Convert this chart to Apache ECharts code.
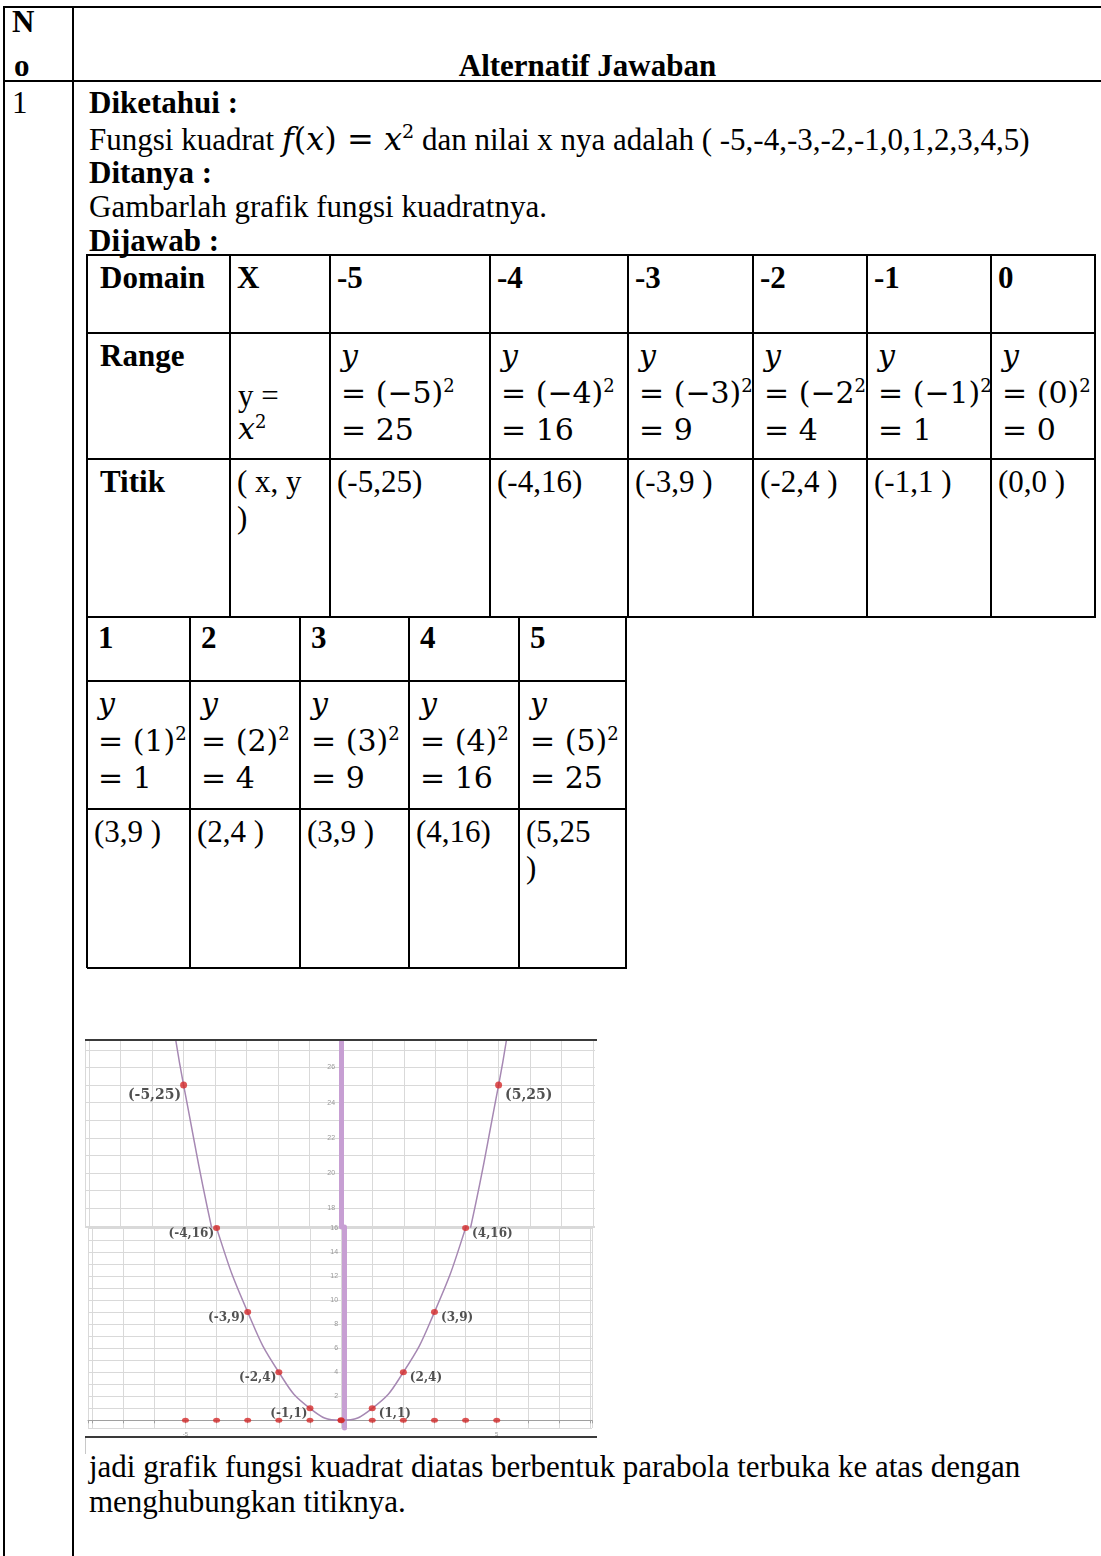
<!DOCTYPE html>
<html>
<head>
<meta charset="utf-8">
<title>Alternatif Jawaban</title>
<script src="https://cdn.jsdelivr.net/npm/echarts@6/dist/echarts.min.js"></script>
<style>
  html, body { margin: 0; padding: 0; background: #fff; }
  #page { position: relative; width: 1101px; height: 1556px; overflow: hidden;
          font-family: "Liberation Serif", "Times New Roman", serif; font-size: 31px; color: #000; }
  .t { position: absolute; white-space: nowrap; line-height: 36px; height: 36px; }
  .b { font-weight: bold; }
  .m { font-family: "DejaVu Serif", serif; font-size: 30px; }
  .m i, i.m { font-style: italic; }
  .fm { font-size: 32px; }
  .sup { font-size: 0.6em; position: relative; top: -0.62em; }
  .ln { position: absolute; background: #000; }
  .cell { position: absolute; overflow: hidden; }
  #graph { position: absolute; left: 85px; top: 1040px; width: 510px; height: 397px; background: #fff; }
  .edge { position: absolute; background: #3a3a3a; }
</style>
</head>
<body>
<div id="page">
  <div id="graph"></div>
</div>
<script>
// ---- values of the quadratic f(x) = x^2 ----
const xValues = [-5, -4, -3, -2, -1, 0, 1, 2, 3, 4, 5];
const yValues = [25, 16, 9, 4, 1, 0, 1, 4, 9, 16, 25];
const pointLabels = ['(-5,25)', '(-4,16)', '(-3,9)', '(-2,4)', '(-1,1)', '', '(1,1)', '(2,4)', '(3,9)', '(4,16)', '(5,25)'];
// where the drawn curve leaves the upper edge of the plot
const curveExit = [[-5.25, 27.56], [5.25, 27.56]];
// tick labels printed on the axes
const upperTicks = [18, 20, 22, 24, 26];
const lowerTicks = [2, 4, 6, 8, 10, 12, 14, 16];
const xTickLabels = [-5, 5];

// ---- table text ----
const domainRow = ['Domain', 'X', '-5', '-4', '-3', '-2', '-1', '0'];
const rangeSquares1 = ['(−5)', '(−4)', '(−3)', '(−2', '(−1)', '(0)'];
const rangeResults1 = ['25', '16', '9', '4', '1', '0'];
const titikRow1 = ['(-5,25)', '(-4,16)', '(-3,9 )', '(-2,4 )', '(-1,1 )', '(0,0 )'];
const domainRow2 = ['1', '2', '3', '4', '5'];
const rangeSquares2 = ['(1)', '(2)', '(3)', '(4)', '(5)'];
const rangeResults2 = ['1', '4', '9', '16', '25'];
const titikRow2 = [['(3,9 )'], ['(2,4 )'], ['(3,9 )'], ['(4,16)'], ['(5,25', ')']];

const page = document.getElementById('page');

function line(x, y, w, h) {
  const d = document.createElement('div');
  d.className = 'ln';
  d.style.cssText = `left:${x}px;top:${y}px;width:${w}px;height:${h}px`;
  page.appendChild(d);
}
function text(parent, x, cy, html, cls) {
  const d = document.createElement('div');
  d.className = 't ' + (cls || '');
  d.style.left = x + 'px';
  d.style.top = (cy - 18) + 'px';
  d.innerHTML = html;
  parent.appendChild(d);
  return d;
}
function cell(cols, rows, c, r) {
  const d = document.createElement('div');
  d.className = 'cell';
  d.style.left = (cols[c] + 1) + 'px';
  d.style.top = (rows[r] + 1) + 'px';
  d.style.width = (cols[c + 1] - cols[c] - 1) + 'px';
  d.style.height = (rows[r + 1] - rows[r] - 1) + 'px';
  page.appendChild(d);
  return d;
}
function grid(cols, rows) {
  rows.forEach(y => line(cols[0], y - 1, cols[cols.length - 1] - cols[0] + 1, 2));
  cols.forEach(x => line(x - 1, rows[0] - 1, 2, rows[rows.length - 1] - rows[0] + 1));
}
const sq = s => `= ${s}<span class="sup">2</span>`;

// ---- outer frame ----
line(3, 6, 1098, 2);
line(3, 80, 1098, 2);
line(3, 6, 2, 1550);
line(72, 6, 2, 1550);
text(page, 12, 22, 'N', 'b');
text(page, 14, 66, 'o', 'b');
const head = text(page, 74, 66, 'Alternatif Jawaban', 'b');
head.style.width = '1027px';
head.style.textAlign = 'center';

text(page, 12, 103, '1');
text(page, 89, 103, 'Diketahui :', 'b');
text(page, 89, 139, 'Fungsi kuadrat <span class="m fm"><i>f</i>(<i>x</i>) = <i>x</i><span class="sup">2</span></span> dan nilai x nya adalah ( -5,-4,-3,-2,-1,0,1,2,3,4,5)');
text(page, 89, 173, 'Ditanya :', 'b');
text(page, 89, 207, 'Gambarlah grafik fungsi kuadratnya.');
text(page, 89, 241, 'Dijawab :', 'b');

// ---- first table ----
const cols1 = [87, 230, 330, 490, 628, 753, 867, 991, 1095];
const rows1 = [255, 333, 459, 617];
grid(cols1, rows1);
domainRow.forEach((s, c) => {
  const el = cell(cols1, rows1, c, 0);
  text(el, c === 0 ? 12 : 6, 22, s, 'b');
});
{
  const el0 = cell(cols1, rows1, 0, 1);
  text(el0, 12, 22, 'Range', 'b');
  const elx = cell(cols1, rows1, 1, 1);
  text(elx, 7, 62, 'y =');
  text(elx, 7, 95, '<i>x</i><span class="sup">2</span>', 'm');
  rangeSquares1.forEach((s, i) => {
    const el = cell(cols1, rows1, i + 2, 1);
    text(el, 10, 22, '<i>y</i>', 'm');
    text(el, 10, 59, sq(s), 'm');
    text(el, 10, 96, '= ' + rangeResults1[i], 'm');
  });
  const el2 = cell(cols1, rows1, 0, 2);
  text(el2, 12, 22, 'Titik', 'b');
  const el3 = cell(cols1, rows1, 1, 2);
  text(el3, 6, 22, '( x, y');
  text(el3, 6, 58, ')');
  titikRow1.forEach((s, i) => {
    const el = cell(cols1, rows1, i + 2, 2);
    text(el, 6, 22, s);
  });
}

// ---- second table ----
const cols2 = [87, 190, 300, 409, 519, 626];
const rows2 = [617, 681, 809, 968];
grid(cols2, rows2);
domainRow2.forEach((s, c) => {
  const el = cell(cols2, rows2, c, 0);
  text(el, 10, 20, s, 'b');
  const er = cell(cols2, rows2, c, 1);
  text(er, 10, 22, '<i>y</i>', 'm');
  text(er, 10, 59, sq(rangeSquares2[c]), 'm');
  text(er, 10, 96, '= ' + rangeResults2[c], 'm');
  const et = cell(cols2, rows2, c, 2);
  titikRow2[c].forEach((s, k) => text(et, 6, 22 + k * 36, s));
});

// ---- closing sentence ----
text(page, 89, 1467, 'jadi grafik fungsi kuadrat diatas berbentuk parabola terbuka ke atas dengan');
text(page, 89, 1502, 'menghubungkan titiknya.');

// frame lines of the graph picture
function edge(x, y, w, h, color) {
  const d = document.createElement('div');
  d.className = 'edge';
  d.style.cssText = `left:${x}px;top:${y}px;width:${w}px;height:${h}px;` + (color ? `background:${color}` : '');
  page.appendChild(d);
}
edge(85, 1039, 512, 2);
edge(85, 1436, 512, 2);
edge(85, 1438, 1, 16, '#c8c8c8');

// ---- graph of y = x^2 ----
const graphEl = document.getElementById('graph');
const chart = echarts.init(graphEl, null, { renderer: 'canvas' });
const gridLine = { show: true, lineStyle: { color: '#d9d9d9', width: 1 } };
const pts = xValues.map((x, i) => [x, yValues[i]]);
const curve = [curveExit[0], ...pts, curveExit[1]];
const isTick = (v, list) => Math.abs(v - Math.round(v)) < 1e-6 && list.includes(Math.round(v));

const xMin = -8.13, xMax = 8.06;
const plotWidth = graphEl.clientWidth;
// shift the vertical axis (line + labels) onto x = 0
const yAxisShift = -((0 - xMin) / (xMax - xMin)) * plotWidth;

function pointItems(fontSize, dy) {
  return pts.map((p, i) => ({
    value: p,
    label: {
      show: pointLabels[i] !== '',
      formatter: pointLabels[i],
      position: p[0] < 0 ? 'left' : 'right',
      distance: p[0] < 0 ? 1 : 3,
      offset: [p[0] < 0 ? 2 : 0, dy],
      fontFamily: 'DejaVu Serif',
      fontWeight: 'bold',
      fontSize: fontSize,
      color: '#262626'
    }
  }));
}
const xBase = { type: 'value', min: xMin, max: xMax, minInterval: 1, maxInterval: 1, splitLine: gridLine };
const yLine = { show: true, onZero: false, lineStyle: { color: '#c79fd3', width: 5 } };
const yLabel = list => ({ fontSize: 7, color: '#999', margin: 6,
                          formatter: v => isTick(v, list) ? String(Math.round(v)) : '' });

chart.setOption({
  animation: false,
  grid: [
    { left: 0, right: 0, top: 0, height: 187 },
    { left: 0, right: 0, top: 187, height: 210 }
  ],
  xAxis: [
    Object.assign({}, xBase, { gridIndex: 0, axisLine: { show: false }, axisTick: { show: false }, axisLabel: { show: false } }),
    Object.assign({}, xBase, {
      gridIndex: 1,
      axisLine: { show: true, onZero: true, lineStyle: { color: '#a0a0a0', width: 1 } },
      axisTick: { show: true, length: 3, lineStyle: { color: '#a0a0a0' } },
      axisLabel: { show: true, fontSize: 6, color: '#999', margin: 3,
                   formatter: v => isTick(v, xTickLabels) ? String(Math.round(v)) : '' }
    })
  ],
  yAxis: [
    { type: 'value', gridIndex: 0, min: 16.93, max: 27.56, minInterval: 1, maxInterval: 1,
      position: 'left', offset: yAxisShift,
      splitLine: gridLine, axisLine: yLine, axisTick: { show: false }, axisLabel: yLabel(upperTicks) },
    { type: 'value', gridIndex: 1, min: -0.64, max: 16.08, minInterval: 1, maxInterval: 1,
      position: 'left', offset: yAxisShift,
      splitLine: gridLine, axisLine: yLine, axisTick: { show: false }, axisLabel: yLabel(lowerTicks) }
  ],
  series: [
    { type: 'line', xAxisIndex: 0, yAxisIndex: 0, data: curve, smooth: 0.5, symbol: 'none',
      lineStyle: { color: '#a688b3', width: 1.5 }, clip: true, silent: true },
    { type: 'scatter', xAxisIndex: 0, yAxisIndex: 0, data: pointItems(14, 10), symbolSize: 7,
      itemStyle: { color: '#d42a2a' }, clip: true, z: 4 },
    { type: 'line', xAxisIndex: 1, yAxisIndex: 1, data: curve, smooth: 0.5, symbol: 'none',
      lineStyle: { color: '#a688b3', width: 1.5 }, clip: true, silent: true },
    { type: 'scatter', xAxisIndex: 1, yAxisIndex: 1, data: pointItems(12, 6), symbolSize: [7, 6],
      itemStyle: { color: '#d42a2a' }, clip: true, z: 4 },
    { type: 'scatter', xAxisIndex: 1, yAxisIndex: 1, data: xValues.map(x => [x, 0]), symbolSize: [7, 5],
      itemStyle: { color: '#d42a2a' }, clip: true, z: 4 }
  ]
});
</script>
</body>
</html>
